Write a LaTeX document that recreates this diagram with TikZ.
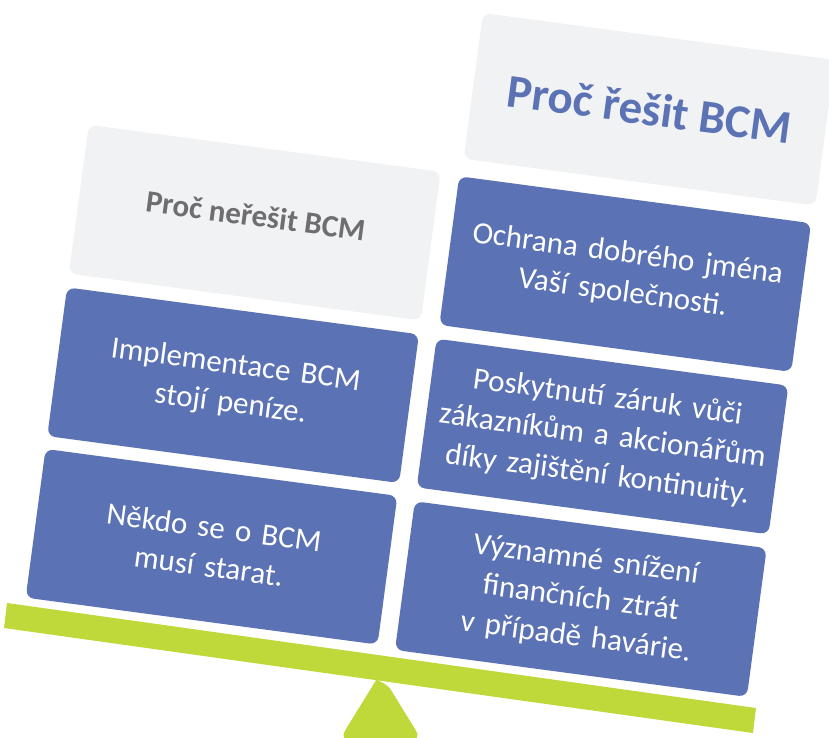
\documentclass[tikz,border=0pt]{standalone}
\usepackage{fontspec}
\setmainfont{Carlito}
\definecolor{boxblue}{HTML}{5B72B5}
\definecolor{boxgray}{HTML}{F1F2F3}
\definecolor{barGreen}{HTML}{BFD83A}
\definecolor{headgray}{HTML}{6E6E70}
\begin{document}
\begin{tikzpicture}[x=1pt,y=-1pt,
  card/.style={rounded corners=8pt, minimum width=355pt, minimum height=150pt, inner sep=0pt, align=center, text width=345pt},
  bluecard/.style={card, fill=boxblue, text=white, font=\fontsize{31}{39}\selectfont},
  graycard/.style={card, fill=boxgray},
  headtext/.style={inner sep=0pt, align=center}]
\useasboundingbox (0,0) rectangle (829,737);
\clip (0,0) rectangle (829,737);
% balance bar
\fill[barGreen] (7,603) -- (756,708) -- (753,733) -- (4,628) -- cycle;
% fulcrum
\fill[barGreen] (370,690) .. controls (375.25,681.5) and (385.75,681.5) .. (391,690)
  [rounded corners=14pt] -- (423,742) -- (338,742) -- cycle;
\begin{scope}[rotate=-7.6, transform shape]
  % left column
  \node[graycard] (lh) at (282,187) {};
  \node[headtext, text=headgray, font=\bfseries\fontsize{31}{37}\selectfont] (lht) at (282,180) {Proč neřešit BCM};
  \node[bluecard] (l1) at (282,351) {Implementace BCM\\stojí peníze.};
  \node[bluecard] (l2) at (282,514) {Někdo se o BCM\\musí starat.};
  % right column
  \node[graycard, minimum height=147pt] (rh) at (658,22.5) {};
  \node[headtext, text=boxblue, font=\bfseries\fontsize{47}{56}\selectfont] (rht) at (658,22) {Proč řešit BCM};
  \node[bluecard] (r1) at (656,189) {Ochrana dobrého jména\\Vaší společnosti.};
  \node[bluecard] (r2) at (655,353) {Poskytnutí záruk vůči\\zákazníkům a akcionářům\\díky zajištění kontinuity.};
  \node[bluecard] (r3) at (655,517) {Významné snížení\\finančních ztrát\\v případě havárie.};
\end{scope}
\end{tikzpicture}
\end{document}
